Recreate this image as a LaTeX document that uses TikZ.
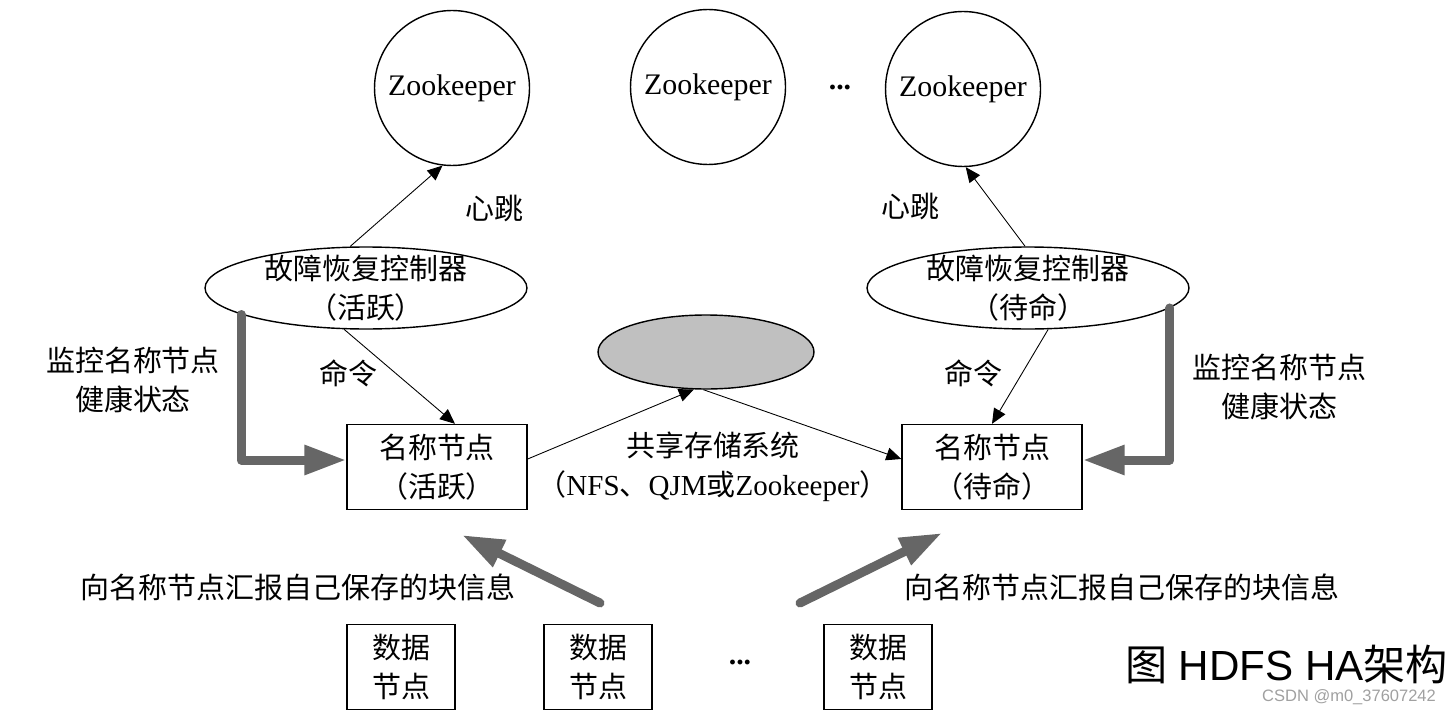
\documentclass[tikz,border=0pt]{standalone}
\usepackage{fontspec}
\setmainfont{Liberation Serif}
\newfontfamily\cjk{Noto Sans CJK SC}
\newfontfamily\arialfont{Liberation Sans}
\usepackage{xcolor}
\usepackage{tikz}
\usetikzlibrary{arrows.meta,positioning,calc,shapes.geometric}
\definecolor{StoreGray}{RGB}{192,192,192}
\definecolor{FlowGray}{RGB}{102,102,102}
\definecolor{MarkGray}{RGB}{160,160,160}
\newcommand\cnsize{\fontsize{16.5}{22.5}\selectfont}
\tikzset{
  zknode/.style={circle, draw, line width=0.8pt, minimum size=3.1cm, inner sep=0pt, font=\fontsize{17}{20}\selectfont},
  fcnode/.style={ellipse, draw, line width=0.8pt, minimum width=6.44cm, minimum height=1.64cm, inner xsep=0pt, inner ysep=-12pt, align=center, font=\cjk\cnsize},
  nnbox/.style={rectangle, draw, line width=0.8pt, minimum width=3.6cm, minimum height=1.7cm, inner sep=1pt, align=center, font=\cjk\cnsize},
  dnbox/.style={rectangle, draw, line width=0.8pt, minimum width=2.16cm, minimum height=1.7cm, inner sep=1pt, align=center, font=\cjk\cnsize},
  lbl/.style={align=center, font=\cjk\cnsize},
  thinarrow/.style={-{Triangle[length=0.3cm,width=0.26cm]}, line width=0.5pt},
  fatarrow/.style={-{Triangle[length=0.84cm,width=0.56cm]}, draw=FlowGray, line width=0.18cm, line cap=round, line join=round}
}
\begin{document}
\begin{tikzpicture}[x=0.02cm,y=-0.02cm]
  \useasboundingbox (0,0) rectangle (1452,716);
  \node[zknode] (zkA) at (452,88) {Zookeeper};
  \node[zknode] (zkB) at (708,87) {Zookeeper};
  \node[zknode] (zkC) at (963,89) {Zookeeper};
  \node[font=\fontsize{17}{20}\selectfont\bfseries] (zkDots) at (840,88) {...};
  \node[fcnode] (fcA) at (366,288) {故障恢复控制器\\（活跃）};
  \node[fcnode] (fcS) at (1028,288) {故障恢复控制器\\（待命）};
  \node[ellipse, draw, line width=0.8pt, fill=StoreGray, minimum width=4.32cm, minimum height=1.48cm] (store) at (706,352) {};
  \node[nnbox] (nnA) at (437,467) {名称节点\\（活跃）};
  \node[nnbox] (nnS) at (992,467) {名称节点\\（待命）};
  \node[dnbox] (dnA) at (401,667) {数据\\节点};
  \node[dnbox] (dnB) at (598,667) {数据\\节点};
  \node[dnbox] (dnC) at (878,667) {数据\\节点};
  \node[font=\fontsize{17}{20}\selectfont\bfseries] (dnDots) at (740,662) {...};
  \node[lbl] (beatA) at (494,208) {心跳};
  \node[lbl] (beatS) at (910,206) {心跳};
  \node[lbl] (cmdA) at (348,373) {命令};
  \node[lbl] (cmdS) at (973,373) {命令};
  \node[lbl] (watchA) at (133,380) {监控名称节点\\健康状态};
  \node[lbl] (watchS) at (1279,387) {监控名称节点\\健康状态};
  \node[lbl, font=\cnsize] (storeLbl) at (713,467) {{\cjk 共享存储系统}\\{\cjk （}NFS{\cjk 、}QJM{\cjk 或}Zookeeper{\cjk ）}};
  \node[lbl] (reportA) at (298,587) {向名称节点汇报自己保存的块信息};
  \node[lbl] (reportS) at (1122,587) {向名称节点汇报自己保存的块信息};
  \node[font=\fontsize{24}{28}\selectfont] (title) at (1287,664) {{\cjk 图} \arialfont HDFS HA{\cjk 架构}};
  \node[font=\arialfont\fontsize{9.4}{11}\selectfont, text=MarkGray] (mark) at (1349,697) {CSDN @m0\_37607242};
  \draw[thinarrow] (fcA.111) -- (zkA.-97);
  \draw[thinarrow] (fcS.94) -- (zkC.-88);
  \draw[thinarrow] (fcA.-118) -- ($(nnA.north)+(18,0)$);
  \draw[thinarrow] (fcS.-64) -- (nnS.north);
  \draw[thinarrow] ($(nnA.east)+(0,-8)$) -- (store.-108);
  \draw[thinarrow] (store.-94) -- ($(nnS.west)+(0,-8)$);
  \draw[fatarrow] (fcA.192) |- ($(nnA.west)+(0,-7)$);
  \draw[fatarrow] (fcS.-8) |- ($(nnS.east)+(0,-7)$);
  \coordinate (upA) at (600,603);
  \coordinate (tipA) at (462,535);
  \coordinate (upS) at (800,603);
  \coordinate (tipS) at (942,533);
  \draw[fatarrow] (upA) -- (tipA);
  \draw[fatarrow] (upS) -- (tipS);
\end{tikzpicture}
\end{document}
